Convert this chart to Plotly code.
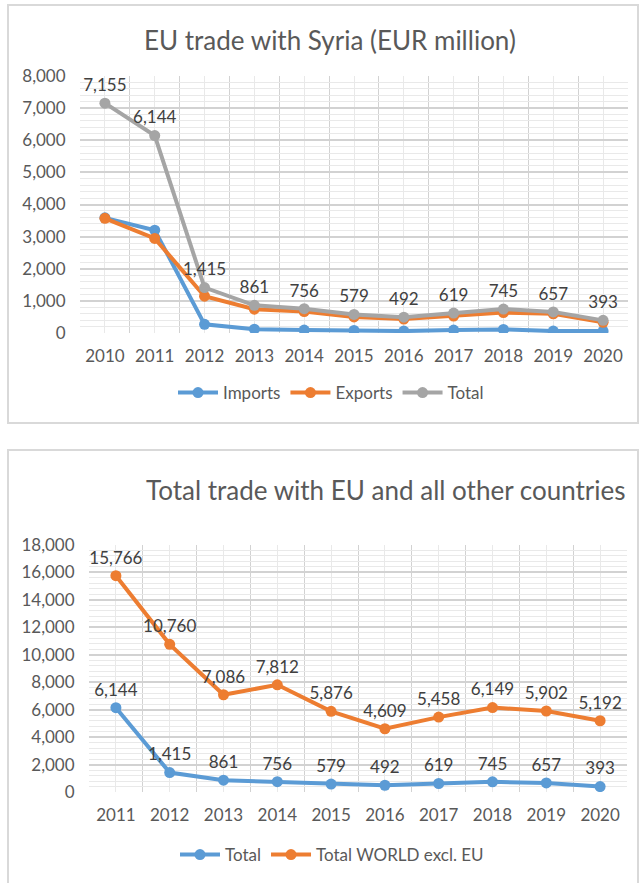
import plotly.graph_objects as go

# ---- data ----
years1 = [2010, 2011, 2012, 2013, 2014, 2015, 2016, 2017, 2018, 2019, 2020]
imports = [3585, 3200, 270, 120, 90, 80, 60, 90, 110, 60, 60]
exports = [3570, 2944, 1145, 741, 666, 499, 432, 529, 635, 597, 333]
total1 = [7155, 6144, 1415, 861, 756, 579, 492, 619, 745, 657, 393]

years2 = [2011, 2012, 2013, 2014, 2015, 2016, 2017, 2018, 2019, 2020]
total2 = [6144, 1415, 861, 756, 579, 492, 619, 745, 657, 393]
world_excl_eu = [15766, 10760, 7086, 7812, 5876, 4609, 5458, 6149, 5902, 5192]

title1 = "EU trade with Syria (EUR million)"
title2 = "Total trade with EU and all other countries"

BLUE = "#5B9BD5"
ORANGE = "#ED7D31"
GRAY = "#A5A5A5"
TXT = "#595959"
FONT = "Lato"

W, H = 639, 883


def px(x):
    return x / W


def py(y):
    return 1 - y / H


def fmt(v):
    return f"{v:,}"


fig = go.Figure()

line_w = 4
msize = 11
lab_font = dict(size=17, color="#404040", family=FONT)

fig.add_trace(go.Scatter(x=years1, y=imports, name="Imports", mode="lines+markers",
                         line=dict(color=BLUE, width=line_w), marker=dict(size=msize, color=BLUE),
                         xaxis="x", yaxis="y", legend="legend"))
fig.add_trace(go.Scatter(x=years1, y=exports, name="Exports", mode="lines+markers",
                         line=dict(color=ORANGE, width=line_w), marker=dict(size=msize, color=ORANGE),
                         xaxis="x", yaxis="y", legend="legend"))
fig.add_trace(go.Scatter(x=years1, y=total1, name="Total", mode="lines+markers+text",
                         line=dict(color=GRAY, width=line_w), marker=dict(size=msize, color=GRAY),
                         text=[fmt(v) for v in total1], textposition="top center",
                         textfont=lab_font,
                         xaxis="x", yaxis="y", legend="legend"))

fig.add_trace(go.Scatter(x=years2, y=total2, name="Total", mode="lines+markers+text",
                         line=dict(color=BLUE, width=line_w), marker=dict(size=msize, color=BLUE),
                         text=[fmt(v) for v in total2], textposition="top center",
                         textfont=lab_font,
                         xaxis="x2", yaxis="y2", legend="legend2"))
fig.add_trace(go.Scatter(x=years2, y=world_excl_eu, name="Total WORLD excl. EU", mode="lines+markers+text",
                         line=dict(color=ORANGE, width=line_w), marker=dict(size=msize, color=ORANGE),
                         text=[fmt(v) for v in world_excl_eu], textposition="top center",
                         textfont=lab_font,
                         xaxis="x2", yaxis="y2", legend="legend2"))

MAJ = "#d2d2d2"
MIN = "#e9e9e9"

common_x = dict(tickmode="array", showline=False, zeroline=False,
                ticks="outside", ticklen=8, tickcolor="rgba(0,0,0,0)",
                tickfont=dict(size=17, color=TXT, family=FONT),
                showgrid=True, gridcolor=MIN, gridwidth=1, automargin=False)
common_y = dict(showline=False, zeroline=False, tickformat=",",
                ticks="outside", ticklen=10, tickcolor="rgba(0,0,0,0)",
                tickfont=dict(size=17, color=TXT, family=FONT),
                showgrid=True, gridcolor=MAJ, gridwidth=1.5, automargin=False)

fig.update_layout(
    width=W, height=H,
    margin=dict(l=0, r=0, t=0, b=0, autoexpand=False),
    paper_bgcolor="white", plot_bgcolor="white",
    font=dict(family=FONT, color=TXT),
    xaxis=dict(domain=[px(80), px(628)], range=[2009.5, 2020.5],
               tickvals=years1, ticktext=[str(y) for y in years1],
               minor=dict(showgrid=True, tick0=2009.5, dtick=1, gridcolor=MAJ, gridwidth=1),
               anchor="y", **common_x),
    yaxis=dict(domain=[py(333), py(76)], range=[0, 8000], dtick=1000,
               minor=dict(showgrid=True, dtick=200, gridcolor=MIN, gridwidth=1),
               anchor="x", **common_y),
    xaxis2=dict(domain=[px(89), px(627)], range=[2010.5, 2020.5],
                tickvals=years2, ticktext=[str(y) for y in years2],
                minor=dict(showgrid=True, tick0=2010.5, dtick=1, gridcolor=MAJ, gridwidth=1),
                anchor="y2", **common_x),
    yaxis2=dict(domain=[py(792), py(545)], range=[0, 18000], dtick=2000,
                minor=dict(showgrid=True, dtick=400, gridcolor=MIN, gridwidth=1),
                anchor="x2", **common_y),
    legend=dict(orientation="h", x=px(331), y=py(393), xanchor="center", yanchor="middle",
                font=dict(size=17, color=TXT, family=FONT), bgcolor="rgba(0,0,0,0)",
                itemwidth=40, tracegroupgap=0),
    legend2=dict(orientation="h", x=px(332), y=py(855), xanchor="center", yanchor="middle",
                 font=dict(size=17, color=TXT, family=FONT), bgcolor="rgba(0,0,0,0)",
                 itemwidth=40),
    showlegend=True,
    annotations=[
        dict(text=title1, x=px(330), y=py(40), xref="paper", yref="paper",
             xanchor="center", yanchor="middle", showarrow=False,
             font=dict(size=26, color=TXT, family=FONT)),
        dict(text=title2, x=px(386), y=py(490), xref="paper", yref="paper",
             xanchor="center", yanchor="middle", showarrow=False,
             font=dict(size=26, color=TXT, family=FONT)),
    ],
    shapes=[
        dict(type="rect", xref="paper", yref="paper", x0=px(8), x1=px(638), y0=py(423), y1=py(5),
             line=dict(color="#d9d9d9", width=2), fillcolor="rgba(0,0,0,0)", layer="below"),
        dict(type="rect", xref="paper", yref="paper", x0=px(8), x1=px(638), y0=py(890), y1=py(450),
             line=dict(color="#d9d9d9", width=2), fillcolor="rgba(0,0,0,0)", layer="below"),
    ],
)

fig.write_html("out.html")
